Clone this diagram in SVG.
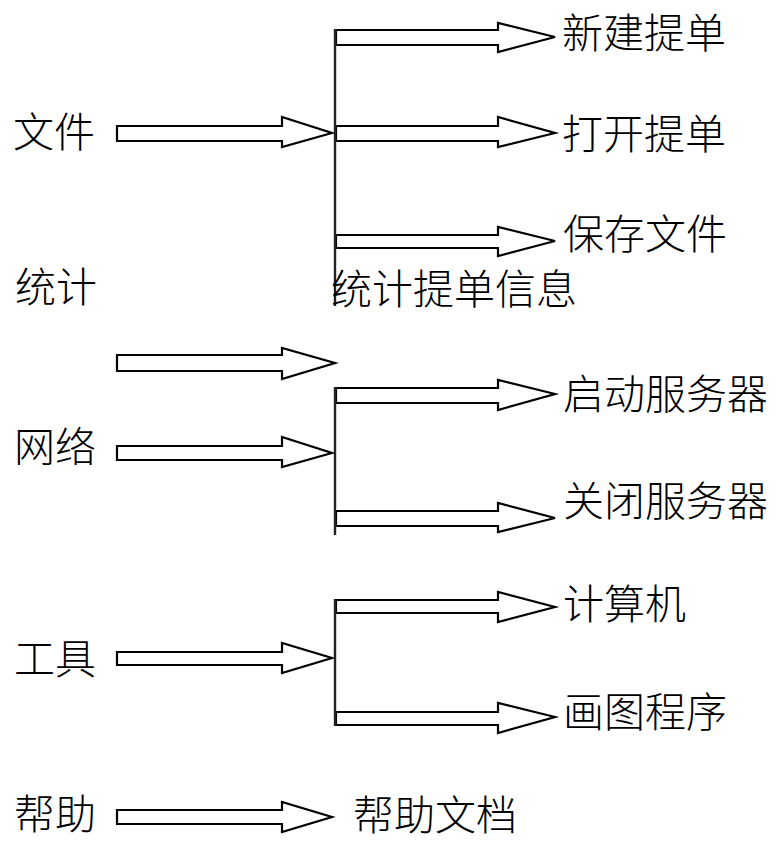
<svg xmlns="http://www.w3.org/2000/svg" width="780" height="844" viewBox="0 0 780 844">
<style>
.t{font-family:"Noto Sans CJK SC","Noto Sans CJK JP",sans-serif;font-size:41px;font-weight:300;fill:#000}
.a{fill:#fff;stroke:#000;stroke-width:2.2;stroke-linejoin:miter}
.v{stroke:#222;stroke-width:2.4;fill:none}
</style>
<rect width="780" height="844" fill="#fff"/>
<g id="connectors">
<polygon class="a" points="117,126 282,126 282,117 332,133 282,147 282,141 117,141"/>
<polygon class="a" points="336,30 498,30 498,23 555,37 498,52 498,45 336,45"/>
<polygon class="a" points="336,126 498,126 498,117 555,133 498,147 498,141 336,141"/>
<polygon class="a" points="336,235 498,235 498,227 555,241 498,256 498,248 336,248"/>
<line class="v" x1="335" y1="29" x2="335" y2="306"/>
<polygon class="a" points="117,355 282,355 282,348 335,363 282,379 282,371 117,371"/>
<polygon class="a" points="117,446 282,446 282,437 332,453 282,467 282,460 117,460"/>
<polygon class="a" points="336,388 498,388 498,380 555,394 498,410 498,403 336,403"/>
<polygon class="a" points="336,511 498,511 498,503 555,518 498,532 498,526 336,526"/>
<line class="v" x1="335" y1="387" x2="335" y2="535"/>
<polygon class="a" points="117,652 282,652 282,643 332,658 282,673 282,665 117,665"/>
<polygon class="a" points="336,600 498,600 498,592 555,607 498,622 498,613 336,613"/>
<polygon class="a" points="336,712 498,712 498,703 555,717 498,733 498,725 336,725"/>
<line class="v" x1="335" y1="599" x2="335" y2="726"/>
<polygon class="a" points="117,810 282,810 282,802 332,817 282,832 282,824 117,824"/>
</g>
<g id="n-file"><text class="t" x="13" y="147">文件</text></g>
<g id="n-new"><text class="t" x="562" y="48">新建提单</text></g>
<g id="n-open"><text class="t" x="562" y="149">打开提单</text></g>
<g id="n-save"><text class="t" x="563" y="249">保存文件</text></g>
<g id="n-stat"><text class="t" x="15" y="302">统计</text></g>
<g id="n-statinfo"><text class="t" x="331" y="304">统计提单信息</text></g>
<g id="n-net"><text class="t" x="14" y="462">网络</text></g>
<g id="n-start"><text class="t" x="563" y="409">启动服务器</text></g>
<g id="n-close"><text class="t" x="563" y="516">关闭服务器</text></g>
<g id="n-tool"><text class="t" x="14" y="674">工具</text></g>
<g id="n-calc"><text class="t" x="563" y="619">计算机</text></g>
<g id="n-paint"><text class="t" x="563" y="727">画图程序</text></g>
<g id="n-help"><text class="t" x="14" y="829">帮助</text></g>
<g id="n-helpdoc"><text class="t" x="353" y="830">帮助文档</text></g>
</svg>
